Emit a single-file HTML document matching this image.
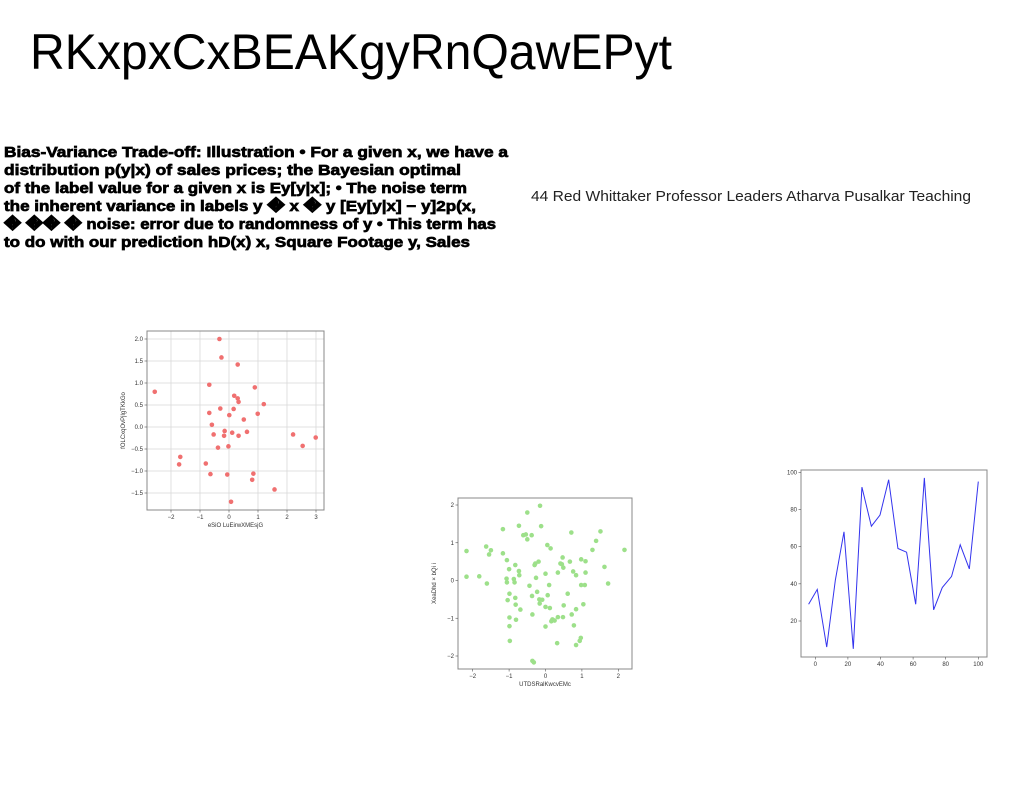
<!DOCTYPE html>
<html><head><meta charset="utf-8"><style>
html,body{margin:0;padding:0;background:#fff;width:1024px;height:788px;overflow:hidden}
svg{display:block;font-family:"Liberation Sans",sans-serif}
.tk{font-size:6px;fill:#333}
.al{font-size:6px;fill:#333}
</style></head><body>
<svg id="page" width="1024" height="788" viewBox="0 0 1024 788">
<text x="30" y="69" font-size="50" fill="#000" textLength="642" lengthAdjust="spacingAndGlyphs">RKxpxCxBEAKgyRnQawEPyt</text>
<g font-weight="bold" font-size="15" fill="#000" stroke="#000" stroke-width="0.7">
<text x="4" y="157" textLength="504" lengthAdjust="spacingAndGlyphs">Bias-Variance Trade-off: Illustration • For a given x, we have a</text>
<text x="4" y="175" textLength="457" lengthAdjust="spacingAndGlyphs">distribution p(y|x) of sales prices; the Bayesian optimal</text>
<text x="4" y="193" textLength="463" lengthAdjust="spacingAndGlyphs">of the label value for a given x is Ey[y|x]; • The noise term</text>
<text x="4" y="211" textLength="472" lengthAdjust="spacingAndGlyphs">the inherent variance in labels y � x � y [Ey[y|x] − y]2p(x,</text>
<text x="4" y="229" textLength="492" lengthAdjust="spacingAndGlyphs">� �� � noise: error due to randomness of y • This term has</text>
<text x="4" y="247" textLength="466" lengthAdjust="spacingAndGlyphs">to do with our prediction hD(x) x, Square Footage y, Sales</text>
</g>
<text x="531" y="201" font-size="15" fill="#222" textLength="440" lengthAdjust="spacingAndGlyphs">44 Red Whittaker Professor Leaders Atharva Pusalkar Teaching</text>
<g id="c1"></g>
<g id="c2"></g>
<g id="c3"></g>
</svg>
<script>
const NS="http://www.w3.org/2000/svg";
const redX=[-2.56,-0.33,-0.26,0.30,-0.68,0.89,0.18,0.30,0.33,1.20,-0.30,0.16,-0.68,0.01,0.99,0.51,-0.59,-0.15,-0.53,-0.17,0.11,0.33,0.62,2.21,2.54,2.99,-0.38,-0.02,-1.68,-1.72,-0.80,-0.64,-0.06,0.84,0.80,1.57,0.07];
const redY=[0.80,2.0,1.58,1.42,0.96,0.90,0.71,0.65,0.57,0.52,0.42,0.41,0.32,0.27,0.30,0.17,0.05,-0.09,-0.17,-0.20,-0.13,-0.20,-0.11,-0.17,-0.43,-0.24,-0.47,-0.44,-0.68,-0.85,-0.83,-1.07,-1.08,-1.06,-1.20,-1.42,-1.70];
const redXTicks=[-2,-1,0,1,2,3];
const redYTicks=[-1.5,-1.0,-0.5,0.0,0.5,1.0,1.5,2.0];
const greenX=[-2.17,-2.17,-1.82,-1.61,-1.63,-1.55,-1.50,-1.17,-1.17,-1.06,-1.07,-1.06,-1.04,-1.00,-0.99,-0.99,-0.99,-0.98,-0.87,-0.85,-0.83,-0.83,-0.82,-0.81,-0.73,-0.73,-0.72,-0.69,-0.61,-0.54,-0.50,-0.50,-0.44,-0.38,-0.37,-0.36,-0.30,-0.28,-0.26,-0.23,-0.19,-0.17,-0.16,-0.12,-0.09,0.00,0.00,0.00,0.05,0.06,0.10,0.12,0.16,0.14,0.19,0.25,0.32,0.34,0.34,0.41,0.45,0.47,0.49,0.48,0.50,0.61,0.67,0.71,0.72,0.76,0.78,0.84,0.84,0.84,0.94,0.97,0.98,0.98,1.04,1.08,1.10,1.10,1.29,1.39,1.51,1.62,1.72,2.17,-0.36,-0.32,-0.15];
const greenY=[0.78,0.10,0.11,-0.08,0.90,0.69,0.80,1.36,0.72,0.54,0.05,-0.05,-0.52,0.30,-0.35,-0.98,-1.21,-1.60,0.04,-0.05,0.41,-0.46,-0.64,-1.04,1.45,0.25,0.14,-0.77,1.20,1.22,1.09,1.80,-0.14,1.20,-0.41,-0.90,0.41,0.45,0.07,-0.30,0.50,-0.50,-0.61,1.44,-0.51,0.18,-0.70,-1.22,0.94,-0.39,-0.12,-0.73,-1.08,0.85,-1.03,-1.06,-1.66,0.21,-0.97,0.45,0.43,0.61,0.34,-0.97,-0.66,-0.35,0.50,1.27,-0.90,0.24,-1.19,0.14,-1.71,-0.76,-1.60,-1.52,0.56,-0.12,-0.63,-0.12,0.51,0.21,0.81,1.05,1.30,0.36,-0.08,0.81,-2.13,-2.17,1.98];
const greenXTicks=[-2,-1,0,1,2];
const greenYTicks=[-2,-1,0,1,2];
const lineX=[-4.1,1.2,7,12.3,17.6,23.3,28.6,34.4,39.7,45,50.7,56,61.6,66.9,72.6,77.9,83.6,88.9,94.5,100];
const lineY=[29,37,6,42,68,5,92,71,77,96,59,57,29,97,26,38,44,61,48,95];
const lineXTicks=[0,20,40,60,80,100];
const lineYTicks=[20,40,60,80,100];

function el(p,t,a){const e=document.createElementNS(NS,t);for(const k in a)e.setAttribute(k,a[k]);p.appendChild(e);return e;}
function lin(d0,d1,r0,r1){return v=>r0+(v-d0)*(r1-r0)/(d1-d0);}

function axes(g,box,xs,ys,xt,yt,grid,fmt){
  if(grid){
    xt.forEach(t=>{const l=el(g,'line',{x1:xs(t),x2:xs(t),y1:box.y,y2:box.y+box.h,stroke:'#d8d8d8','stroke-width':0.8});
      
      });
    yt.forEach(t=>{const l=el(g,'line',{x1:box.x,x2:box.x+box.w,y1:ys(t),y2:ys(t),stroke:'#d8d8d8','stroke-width':0.8});
      
      });
  }
  const r=el(g,'rect',{x:box.x,y:box.y,width:box.w,height:box.h,fill:'none',stroke:'#888','stroke-width':1});
  
  
  xt.forEach(t=>{el(g,'line',{x1:xs(t),x2:xs(t),y1:box.y+box.h,y2:box.y+box.h+2.5,stroke:'#555','stroke-width':0.6});
    const tx=el(g,'text',{x:xs(t),y:box.y+box.h+9,'text-anchor':'middle',class:'tk'});tx.textContent=(t<0?'−'+(-t):t);
    
    });
  yt.forEach(t=>{el(g,'line',{x1:box.x-2.5,x2:box.x,y1:ys(t),y2:ys(t),stroke:'#555','stroke-width':0.6});
    const s=fmt(t);const tx=el(g,'text',{x:box.x-4,y:ys(t)+2,'text-anchor':'end',class:'tk'});tx.textContent=s;
    
    });
}
function labels(g,box,xl,yl){
  const a=el(g,'text',{x:box.x+box.w/2,y:box.y+box.h+17,'text-anchor':'middle',class:'al'});a.textContent=xl;
  
  
  const cx=box.x-22,cy=box.y+box.h/2;
  const b=el(g,'text',{x:cx,y:cy,'text-anchor':'middle',class:'al',transform:`rotate(-90 ${cx} ${cy})`});b.textContent=yl;
  
  
}
const neg=t=>(t<0?'−':'')+Math.abs(t);
(function(){
  const g=document.getElementById('c1');const box={x:147,y:331,w:177,h:179};
  const xs=lin(0,1,229,258), ys=lin(0,1,427,383);
  axes(g,box,xs,ys,redXTicks,redYTicks,true,t=>(t<0?'−':'')+Math.abs(t).toFixed(1));
  redX.forEach((v,i)=>{const c=el(g,'circle',{cx:xs(v),cy:ys(redY[i]),r:2.3,fill:'#f07070'});
    
    });
  labels(g,box,'eSiO LuEirwXMEsjG','fOLCxqOvPjlgTKkGo');
})();
(function(){
  const g=document.getElementById('c2');const box={x:458,y:498,w:174,h:171};
  const xs=lin(0,1,545.5,581.9), ys=lin(0,1,580.5,542.75);
  axes(g,box,xs,ys,greenXTicks,greenYTicks,false,neg);
  greenX.forEach((v,i)=>{const c=el(g,'circle',{cx:xs(v),cy:ys(greenY[i]),r:2.3,fill:'#9de08a'});
    
    });
  labels(g,box,'UTDSRalKwcvEMc','XeaDhd × bQi i');
})();
(function(){
  const g=document.getElementById('c3');const box={x:801,y:470,w:186,h:187};
  const xs=lin(0,100,815.3,978.3), ys=lin(20,100,621,472.3);
  axes(g,box,xs,ys,lineXTicks,lineYTicks,false,t=>t);
  const p=el(g,'polyline',{points:lineX.map((v,i)=>xs(v)+','+ys(lineY[i])).join(' '),fill:'none',stroke:'#3333ee','stroke-width':1});
  
  
})();
</script>
</body></html>
